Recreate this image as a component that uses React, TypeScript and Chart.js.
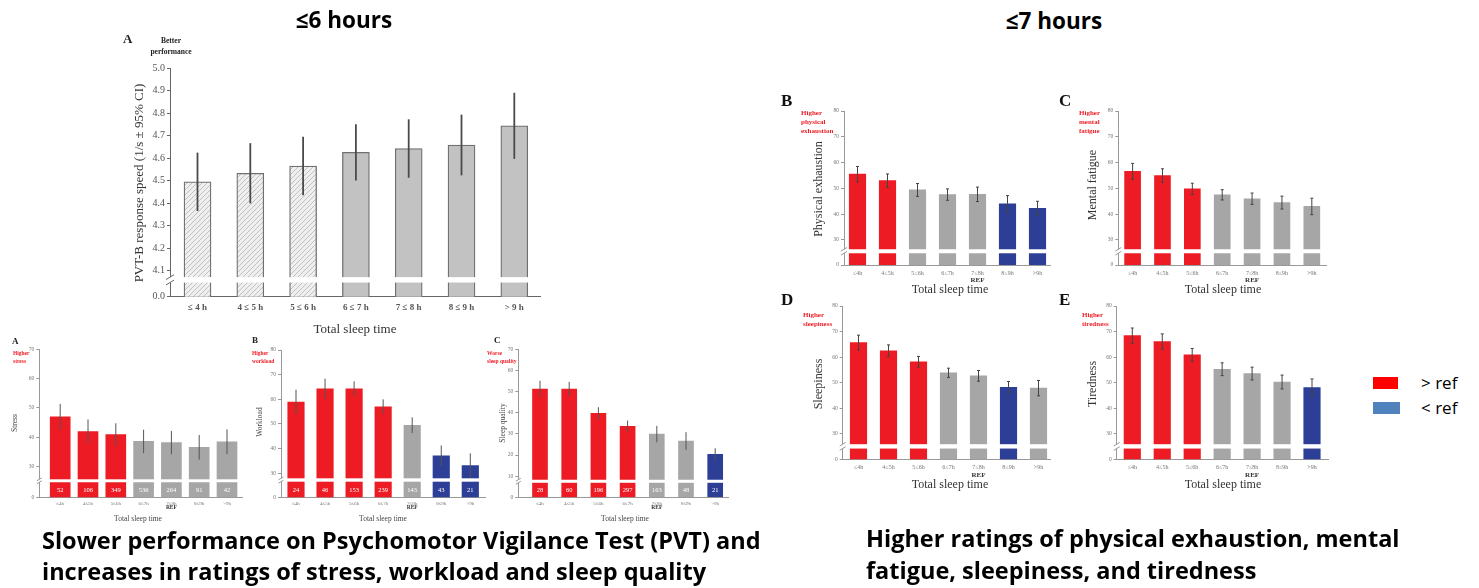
import React, { useEffect, useRef } from "react";
import { Chart, registerables } from "chart.js";

Chart.register(...registerables);

// ---------------- data ----------------
const sleepCategories = ["≤4h", "4≤5h", "5≤6h", "6≤7h", "7≤8h", "8≤9h", ">9h"];
const pvtCategories = ["≤ 4 h", "4 ≤ 5 h", "5 ≤ 6 h", "6 ≤ 7 h", "7 ≤ 8 h", "8 ≤ 9 h", "> 9 h"];

// PVT-B response speed (1/s ± 95% CI)
const pvtSpeed = [4.495, 4.533, 4.565, 4.626, 4.643, 4.659, 4.744];
const pvtCI = [0.13, 0.134, 0.13, 0.125, 0.13, 0.135, 0.147];
const pvtShortSleep = [true, true, true, false, false, false, false];
const pvtTicks = [0, 4.1, 4.2, 4.3, 4.4, 4.5, 4.6, 4.7, 4.8, 4.9, 5.0];

// significance vs reference: "hi" = > ref, "lo" = < ref, "ns" = not different
const stressMean = [47.0, 42.0, 40.9, 38.6, 38.2, 36.6, 38.5];
const stressErr = [4.4, 4.1, 3.9, 4.0, 4.0, 4.2, 4.2];
const stressN = [52, 106, 349, 536, 264, 91, 42];
const stressSig = ["hi", "hi", "hi", "ns", "ns", "ns", "ns"];
const stressTicks = [0, 30, 40, 50, 60, 70];

const workloadMean = [58.9, 64.3, 64.3, 57.0, 49.5, 37.1, 33.1];
const workloadErr = [5.0, 4.1, 3.0, 3.0, 3.2, 4.2, 5.0];
const workloadN = [24, 46, 153, 239, 143, 43, 21];
const workloadSig = ["hi", "hi", "hi", "hi", "ns", "lo", "lo"];
const workloadTicks = [0, 30, 40, 50, 60, 70, 80];

const sleepQualityMean = [51.2, 51.2, 39.7, 33.6, 29.9, 26.6, 20.3];
const sleepQualityErr = [3.9, 3.4, 2.9, 2.7, 3.9, 4.2, 2.9];
const sleepQualityN = [28, 60, 196, 297, 163, 48, 21];
const sleepQualitySig = ["hi", "hi", "hi", "hi", "ns", "ns", "lo"];
const sleepQualityTicks = [0, 10, 20, 30, 40, 50, 60, 70];

const exhaustionMean = [55.5, 53.0, 49.4, 47.6, 47.7, 44.0, 42.3];
const exhaustionErr = [3.0, 2.6, 2.5, 2.2, 2.8, 3.2, 2.7];
const exhaustionSig = ["hi", "hi", "ns", "ns", "ns", "lo", "lo"];

const mentalMean = [56.6, 55.0, 49.8, 47.5, 46.0, 44.5, 43.0];
const mentalErr = [3.1, 2.6, 2.2, 2.0, 2.2, 2.5, 3.2];
const mentalSig = ["hi", "hi", "hi", "ns", "ns", "ns", "ns"];

const sleepinessMean = [65.7, 62.5, 58.2, 53.9, 52.7, 48.2, 47.9];
const sleepinessErr = [2.9, 2.3, 2.1, 1.8, 2.1, 2.3, 3.0];
const sleepinessSig = ["hi", "hi", "hi", "ns", "ns", "lo", "ns"];

const tirednessMean = [68.4, 66.1, 60.9, 55.3, 53.6, 50.3, 48.1];
const tirednessErr = [3.0, 3.0, 2.5, 2.5, 2.5, 2.7, 3.4];
const tirednessSig = ["hi", "hi", "hi", "ns", "ns", "ns", "lo"];

const ratingTicks = [0, 30, 40, 50, 60, 70, 80];

// ---------------- styles ----------------
const RED = "#ED1C24";
const GREY = "#A6A6A6";
const BLUE = "#2C3E96";
const SERIF = '"Liberation Serif", "DejaVu Serif", serif';
const SANS = '"Open Sans", Lato, sans-serif';

const sigColour = (s: string) => (s === "hi" ? RED : s === "lo" ? BLUE : GREY);

interface TextItem {
  t: string;
  x: number;
  y: number;
  size: number;
  bold?: boolean;
  italic?: boolean;
  color?: string;
  align?: CanvasTextAlign;
  rot?: boolean;
}

interface PanelSpec {
  id: string;
  box: [number, number, number, number];
  area: [number, number, number, number];
  first: number;
  step: number;
  barW: number;
  cats: string[];
  values: number[];
  errs: number[];
  colours: string[];
  borderColour: string;
  borderW: number;
  ticks: number[];
  tickLabels: string[];
  zeroDisp: number;
  stripe: [number, number];
  yTickSize: number;
  xTickSize: number;
  xTickPad: number;
  xTickBold: boolean;
  tickColour: string;
  axisColour: string;
  breakSize: number;
  errW: number;
  errColour: string;
  cap: number;
  n?: number[];
  nSize?: number;
  refIdx?: number;
  refY?: number;
  refSize?: number;
  texts: TextItem[];
}

const smallBase = {
  borderColour: "rgba(0,0,0,0)",
  borderW: 0,
  yTickSize: 5.5,
  xTickSize: 5,
  xTickPad: 3,
  xTickBold: false,
  tickColour: "#777",
  axisColour: "#999",
  breakSize: 2.5,
  errW: 1,
  errColour: "#555",
  cap: 0,
  nSize: 6.5,
  refIdx: 4,
  refY: 508,
  refSize: 5.5,
};

const rightBase = {
  borderColour: "rgba(0,0,0,0)",
  borderW: 0,
  yTickSize: 5.5,
  xTickSize: 6,
  xTickPad: 4.5,
  xTickBold: false,
  tickColour: "#777",
  axisColour: "#999",
  breakSize: 3,
  errW: 1,
  errColour: "#444",
  cap: 1.5,
  refIdx: 4,
  refSize: 7,
};

const panels: PanelSpec[] = [
  {
    id: "pvt",
    box: [110, 30, 450, 312],
    area: [170, 68.3, 540, 296.7],
    first: 197.5,
    step: 52.8,
    barW: 27,
    cats: pvtCategories,
    values: pvtSpeed,
    errs: pvtCI,
    colours: pvtShortSleep.map((s) => (s ? "hatch" : "#C2C2C2")),
    borderColour: "#707070",
    borderW: 1.3,
    ticks: pvtTicks,
    tickLabels: pvtTicks.map((v) => v.toFixed(1)),
    zeroDisp: 3.984,
    stripe: [4.047, 4.071],
    yTickSize: 10,
    xTickSize: 9,
    xTickPad: 6,
    xTickBold: true,
    tickColour: "#555",
    axisColour: "#666",
    breakSize: 4,
    errW: 1.8,
    errColour: "#4a4a4a",
    cap: 0,
    texts: [
      { t: "A", x: 123, y: 40, size: 13, bold: true, align: "left", color: "#222" },
      { t: "Better", x: 171, y: 41.5, size: 7.5, bold: true, color: "#222" },
      { t: "performance", x: 171, y: 52, size: 7.5, bold: true, color: "#222" },
      { t: "PVT-B response speed (1/s ± 95% CI)", x: 140, y: 183, size: 13, rot: true, color: "#333" },
      { t: "Total sleep time", x: 355, y: 330, size: 13, color: "#333" },
    ],
  },
  {
    id: "stress",
    ...smallBase,
    box: [0, 336, 245, 190],
    area: [39.3, 349.3, 242, 497.3],
    first: 60.2,
    step: 27.8,
    barW: 20,
    cats: sleepCategories,
    values: stressMean,
    errs: stressErr,
    colours: stressSig.map(sigColour),
    ticks: stressTicks,
    tickLabels: stressTicks.map(String),
    zeroDisp: 19.57,
    stripe: [24.7, 25.7],
    n: stressN,
    texts: [
      { t: "A", x: 12, y: 342, size: 9, bold: true, align: "left", color: "#222" },
      { t: "Higher", x: 13, y: 354, size: 5.5, bold: true, align: "left", color: RED },
      { t: "stress", x: 13, y: 361.5, size: 5.5, bold: true, align: "left", color: RED },
      { t: "Stress", x: 15, y: 423, size: 7.5, rot: true, color: "#444" },
      { t: "Total sleep time", x: 138, y: 519, size: 7.5, color: "#444" },
    ],
  },
  {
    id: "workload",
    ...smallBase,
    box: [245, 336, 243, 190],
    area: [281, 350, 485, 497.3],
    first: 296,
    step: 29.05,
    barW: 16.5,
    cats: sleepCategories,
    values: workloadMean,
    errs: workloadErr,
    colours: workloadSig.map(sigColour),
    ticks: workloadTicks,
    tickLabels: workloadTicks.map(String),
    zeroDisp: 20.27,
    stripe: [26.6, 27.97],
    n: workloadN,
    texts: [
      { t: "B", x: 252, y: 341, size: 9, bold: true, align: "left", color: "#222" },
      { t: "Higher", x: 252, y: 354, size: 5.5, bold: true, align: "left", color: RED },
      { t: "workload", x: 252, y: 361.5, size: 5.5, bold: true, align: "left", color: RED },
      { t: "Workload", x: 260, y: 422, size: 7.5, rot: true, color: "#444" },
      { t: "Total sleep time", x: 383, y: 519, size: 7.5, color: "#444" },
    ],
  },
  {
    id: "sleepq",
    ...smallBase,
    box: [486, 336, 250, 190],
    area: [518.3, 349.3, 728.3, 497.3],
    first: 540,
    step: 29.2,
    barW: 15,
    cats: sleepCategories,
    values: sleepQualityMean,
    errs: sleepQualityErr,
    colours: sleepQualitySig.map(sigColour),
    ticks: sleepQualityTicks,
    tickLabels: sleepQualityTicks.map(String),
    zeroDisp: 0,
    stripe: [6.87, 8.3],
    n: sleepQualityN,
    texts: [
      { t: "C", x: 494, y: 341, size: 9, bold: true, align: "left", color: "#222" },
      { t: "Worse", x: 487, y: 354, size: 5.5, bold: true, align: "left", color: RED },
      { t: "sleep quality", x: 487, y: 361.5, size: 5.5, bold: true, align: "left", color: RED },
      { t: "Sleep quality", x: 503, y: 423, size: 7.5, rot: true, color: "#444" },
      { t: "Total sleep time", x: 625, y: 519, size: 7.5, color: "#444" },
    ],
  },
  {
    id: "exhaustion",
    ...rightBase,
    box: [775, 88, 280, 212],
    area: [844, 111, 1050, 265],
    first: 857.5,
    step: 30,
    barW: 16.5,
    cats: sleepCategories,
    values: exhaustionMean,
    errs: exhaustionErr,
    colours: exhaustionSig.map(sigColour),
    ticks: ratingTicks,
    tickLabels: ratingTicks.map(String),
    zeroDisp: 20.3,
    stripe: [24.85, 26.4],
    refY: 280,
    texts: [
      { t: "B", x: 781, y: 102, size: 17, bold: true, align: "left", color: "#111" },
      { t: "Higher", x: 801, y: 113, size: 7, bold: true, align: "left", color: RED },
      { t: "physical", x: 801, y: 122, size: 7, bold: true, align: "left", color: RED },
      { t: "exhaustion", x: 801, y: 131, size: 7, bold: true, align: "left", color: RED },
      { t: "Physical exhaustion", x: 819, y: 189, size: 12, rot: true, color: "#333" },
      { t: "Total sleep time", x: 950, y: 290, size: 12, color: "#333" },
    ],
  },
  {
    id: "mental",
    ...rightBase,
    box: [1052, 88, 285, 212],
    area: [1118.3, 111, 1326.7, 265],
    first: 1132.6,
    step: 29.87,
    barW: 16,
    cats: sleepCategories,
    values: mentalMean,
    errs: mentalErr,
    colours: mentalSig.map(sigColour),
    ticks: ratingTicks,
    tickLabels: ratingTicks.map(String),
    zeroDisp: 20.3,
    stripe: [24.85, 26.4],
    refY: 280,
    texts: [
      { t: "C", x: 1059, y: 102, size: 17, bold: true, align: "left", color: "#111" },
      { t: "Higher", x: 1079, y: 113, size: 7, bold: true, align: "left", color: RED },
      { t: "mental", x: 1079, y: 122, size: 7, bold: true, align: "left", color: RED },
      { t: "fatigue", x: 1079, y: 131, size: 7, bold: true, align: "left", color: RED },
      { t: "Mental fatigue", x: 1093, y: 185, size: 12, rot: true, color: "#333" },
      { t: "Total sleep time", x: 1223, y: 290, size: 12, color: "#333" },
    ],
  },
  {
    id: "sleepiness",
    ...rightBase,
    box: [775, 290, 280, 210],
    area: [842.7, 306, 1050, 459.3],
    first: 858.5,
    step: 30,
    barW: 16.5,
    cats: sleepCategories,
    values: sleepinessMean,
    errs: sleepinessErr,
    colours: sleepinessSig.map(sigColour),
    ticks: ratingTicks,
    tickLabels: ratingTicks.map(String),
    zeroDisp: 20.1,
    stripe: [24.3, 26.0],
    refY: 475,
    texts: [
      { t: "D", x: 781, y: 301, size: 17, bold: true, align: "left", color: "#111" },
      { t: "Higher", x: 803, y: 315, size: 7, bold: true, align: "left", color: RED },
      { t: "sleepiness", x: 803, y: 324, size: 7, bold: true, align: "left", color: RED },
      { t: "Sleepiness", x: 819, y: 384, size: 12, rot: true, color: "#333" },
      { t: "Total sleep time", x: 950, y: 485, size: 12, color: "#333" },
    ],
  },
  {
    id: "tiredness",
    ...rightBase,
    box: [1052, 290, 285, 210],
    area: [1116.7, 306, 1328, 459.3],
    first: 1132.3,
    step: 29.95,
    barW: 16.5,
    cats: sleepCategories,
    values: tirednessMean,
    errs: tirednessErr,
    colours: tirednessSig.map(sigColour),
    ticks: ratingTicks,
    tickLabels: ratingTicks.map(String),
    zeroDisp: 20.1,
    stripe: [24.3, 26.0],
    refY: 475,
    texts: [
      { t: "E", x: 1059, y: 301, size: 17, bold: true, align: "left", color: "#111" },
      { t: "Higher", x: 1082, y: 315, size: 7, bold: true, align: "left", color: RED },
      { t: "tiredness", x: 1082, y: 324, size: 7, bold: true, align: "left", color: RED },
      { t: "Tiredness", x: 1093, y: 384, size: 12, rot: true, color: "#333" },
      { t: "Total sleep time", x: 1223, y: 485, size: 12, color: "#333" },
    ],
  },
];

function makeHatch(): CanvasPattern | string {
  const c = document.createElement("canvas");
  c.width = 5;
  c.height = 5;
  const g = c.getContext("2d");
  if (!g) return "#e6e6e6";
  g.fillStyle = "#efefef";
  g.fillRect(0, 0, 5, 5);
  g.strokeStyle = "#b4b4b4";
  g.lineWidth = 0.8;
  g.beginPath();
  g.moveTo(0, 5);
  g.lineTo(5, 0);
  g.moveTo(-1, 1);
  g.lineTo(1, -1);
  g.moveTo(4, 6);
  g.lineTo(6, 4);
  g.stroke();
  return g.createPattern(c, "repeat") || "#e6e6e6";
}

function drawDeco(chart: any, s: PanelSpec) {
  const { ctx, chartArea: ca } = chart;
  const xs = chart.scales.x;
  const ys = chart.scales.y;
  const ox = s.box[0];
  const oy = s.box[1];
  ctx.save();
  // axis break stripe
  const yHi = ys.getPixelForValue(s.stripe[1]);
  const yLo = ys.getPixelForValue(s.stripe[0]);
  ctx.fillStyle = "#ffffff";
  ctx.fillRect(ca.left - 1, yHi, ca.right - ca.left + 2, yLo - yHi);
  ctx.strokeStyle = s.axisColour;
  ctx.lineWidth = 1;
  const d = s.breakSize;
  [yHi, yLo].forEach((yy: number) => {
    ctx.beginPath();
    ctx.moveTo(ca.left - d, yy + d * 0.6);
    ctx.lineTo(ca.left + d, yy - d * 0.6);
    ctx.stroke();
  });
  // error bars
  ctx.strokeStyle = s.errColour;
  ctx.lineWidth = s.errW;
  s.values.forEach((v, i) => {
    const x = xs.getPixelForValue(i);
    const top = ys.getPixelForValue(v + s.errs[i]);
    const bot = ys.getPixelForValue(v - s.errs[i]);
    ctx.beginPath();
    ctx.moveTo(x, top);
    ctx.lineTo(x, bot);
    if (s.cap > 0) {
      ctx.moveTo(x - s.cap, top);
      ctx.lineTo(x + s.cap, top);
      ctx.moveTo(x - s.cap, bot);
      ctx.lineTo(x + s.cap, bot);
    }
    ctx.stroke();
  });
  ctx.textBaseline = "middle";
  // group sizes inside lower segment
  if (s.n) {
    const yz = ys.getPixelForValue(s.zeroDisp);
    const ym = (yz + yLo) / 2 + 0.5;
    ctx.fillStyle = "#ffffff";
    ctx.textAlign = "center";
    ctx.font = `${s.nSize}px ${SERIF}`;
    s.n.forEach((n, i) => ctx.fillText(String(n), xs.getPixelForValue(i), ym));
  }
  // REF label
  if (s.refIdx !== undefined && s.refY !== undefined) {
    ctx.fillStyle = "#333";
    ctx.textAlign = "center";
    ctx.font = `bold ${s.refSize}px ${SERIF}`;
    ctx.fillText("REF", xs.getPixelForValue(s.refIdx), s.refY - oy);
  }
  // free texts
  s.texts.forEach((t) => {
    ctx.save();
    ctx.translate(t.x - ox, t.y - oy);
    if (t.rot) ctx.rotate(-Math.PI / 2);
    ctx.fillStyle = t.color || "#333";
    ctx.textAlign = t.align || "center";
    ctx.textBaseline = "middle";
    ctx.font = `${t.italic ? "italic " : ""}${t.bold ? "bold " : ""}${t.size}px ${SERIF}`;
    ctx.fillText(t.t, 0, 0);
    ctx.restore();
  });
  ctx.restore();
}

function PanelChart({ spec }: { spec: PanelSpec }) {
  const ref = useRef<HTMLCanvasElement>(null);
  useEffect(() => {
    const canvas = ref.current;
    if (!canvas) return;
    const s = spec;
    const [bl, bt, bw, bh] = s.box;
    const [al, at, ar, ab] = s.area;
    const yW = al - bl;
    const xH = bt + bh - ab;
    const xMin = -(s.first - al) / s.step;
    const xMax = xMin + (ar - al) / s.step;
    const hatch = makeHatch();
    const fills = s.colours.map((c) => (c === "hatch" ? hatch : c));
    const chart = new Chart(canvas, {
      type: "bar",
      data: {
        datasets: [
          {
            data: s.values.map((v, i) => ({ x: i, y: v })) as any,
            backgroundColor: fills as any,
            borderColor: s.borderColour,
            borderWidth: s.borderW,
            barThickness: s.barW,
          },
        ],
      },
      options: {
        responsive: false,
        animation: false,
        devicePixelRatio: 1,
        events: [],
        layout: {
          padding: {
            left: 0,
            right: bl + bw - ar,
            top: at - bt,
            bottom: 0,
          },
        },
        plugins: { legend: { display: false }, tooltip: { enabled: false }, title: { display: false } },
        scales: {
          x: {
            type: "linear",
            min: xMin,
            max: xMax,
            offset: false,
            afterBuildTicks: (sc: any) => {
              sc.ticks = s.cats.map((_, i) => ({ value: i }));
            },
            afterFit: (sc: any) => {
              sc.height = xH;
            },
            ticks: {
              autoSkip: false,
              maxRotation: 0,
              minRotation: 0,
              padding: s.xTickPad,
              color: s.tickColour,
              font: { family: SERIF, size: s.xTickSize, weight: s.xTickBold ? "bold" : "normal" },
              callback: (v: any) => s.cats[Math.round(Number(v))] ?? "",
            },
            grid: { display: false, drawTicks: false },
            border: { display: true, color: s.axisColour, width: 1 },
          },
          y: {
            type: "linear",
            min: s.zeroDisp,
            max: s.ticks[s.ticks.length - 1],
            afterBuildTicks: (sc: any) => {
              sc.ticks = s.ticks.map((v) => ({ value: v === 0 ? s.zeroDisp : v }));
            },
            afterFit: (sc: any) => {
              sc.width = yW;
            },
            ticks: {
              autoSkip: false,
              padding: 2,
              color: s.tickColour,
              font: { family: SERIF, size: s.yTickSize },
              callback: (_v: any, i: number) => s.tickLabels[i],
            },
            grid: { drawOnChartArea: false, drawTicks: true, tickLength: 3, color: s.axisColour },
            border: { display: true, color: s.axisColour, width: 1 },
          },
        },
      } as any,
      plugins: [{ id: "deco_" + s.id, afterDatasetsDraw: (c: any) => drawDeco(c, s) }],
    });
    return () => chart.destroy();
  }, [spec]);
  return (
    <canvas
      ref={ref}
      width={spec.box[2]}
      height={spec.box[3]}
      style={{ position: "absolute", left: spec.box[0], top: spec.box[1], width: spec.box[2], height: spec.box[3] }}
    />
  );
}

const headStyle = (cx: number, top: number): React.CSSProperties => ({
  position: "absolute",
  left: cx - 150,
  width: 300,
  top,
  textAlign: "center",
  fontFamily: SANS,
  fontWeight: 700,
  fontSize: 22.5,
  lineHeight: "30px",
  color: "#000",
  whiteSpace: "nowrap",
});

const captionStyle = (left: number, top: number, lh: number): React.CSSProperties => ({
  position: "absolute",
  left,
  top,
  fontFamily: SANS,
  fontWeight: 700,
  fontSize: 23.5,
  lineHeight: `${lh}px`,
  color: "#000",
  whiteSpace: "nowrap",
});

const legendText = (top: number): React.CSSProperties => ({
  position: "absolute",
  left: 1421,
  top,
  fontFamily: SANS,
  fontSize: 17,
  lineHeight: "22px",
  color: "#000",
  whiteSpace: "nowrap",
});

export default function App() {
  return (
    <div
      style={{
        position: "fixed",
        left: 0,
        top: 0,
        width: 1479,
        height: 588,
        background: "#fff",
        overflow: "hidden",
      }}
    >
      {panels.map((p) => (
        <PanelChart key={p.id} spec={p} />
      ))}
      <div style={headStyle(344, 5)}>≤6 hours</div>
      <div style={headStyle(1054, 6)}>≤7 hours</div>
      <div style={captionStyle(42, 525, 31)}>
        Slower performance on Psychomotor Vigilance Test (PVT) and
        <br />
        increases in ratings of stress, workload and sleep quality
      </div>
      <div style={captionStyle(866, 522, 32)}>
        Higher ratings of physical exhaustion, mental
        <br />
        fatigue, sleepiness, and tiredness
      </div>
      <div style={{ position: "absolute", left: 1373, top: 377, width: 25, height: 12, background: "#FF0000" }} />
      <div style={legendText(372)}>&gt; ref</div>
      <div style={{ position: "absolute", left: 1373, top: 402, width: 27, height: 12, background: "#4F81BD" }} />
      <div style={legendText(397)}>&lt; ref</div>
    </div>
  );
}
